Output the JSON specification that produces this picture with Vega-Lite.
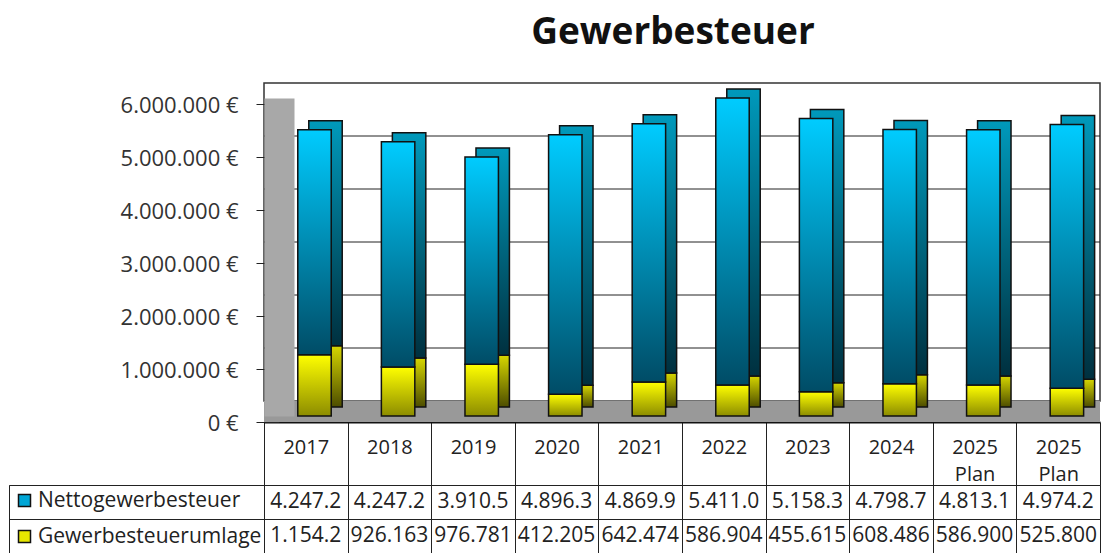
{
  "$schema": "https://vega.github.io/schema/vega-lite/v6.json",
  "background": "white",
  "padding": {"left": 8, "top": 14, "right": 0, "bottom": 0},
  "config": {
    "font": "Open Sans",
    "view": {"stroke": null},
    "axis": {"labelFont": "Open Sans"},
    "legend": {"labelFont": "Open Sans"}
  },
  "resolve": {"legend": {"color": "independent"}, "scale": {"color": "independent"}},
  "datasets": {
    "steuer": [
      {"jahr": "2017", "reihe": "Nettogewerbesteuer", "wert": 4247200, "anzeige": "4.247.2"},
      {"jahr": "2017", "reihe": "Gewerbesteuerumlage", "wert": 1154200, "anzeige": "1.154.2"},
      {"jahr": "2018", "reihe": "Nettogewerbesteuer", "wert": 4247200, "anzeige": "4.247.2"},
      {"jahr": "2018", "reihe": "Gewerbesteuerumlage", "wert": 926163, "anzeige": "926.163"},
      {"jahr": "2019", "reihe": "Nettogewerbesteuer", "wert": 3910500, "anzeige": "3.910.5"},
      {"jahr": "2019", "reihe": "Gewerbesteuerumlage", "wert": 976781, "anzeige": "976.781"},
      {"jahr": "2020", "reihe": "Nettogewerbesteuer", "wert": 4896300, "anzeige": "4.896.3"},
      {"jahr": "2020", "reihe": "Gewerbesteuerumlage", "wert": 412205, "anzeige": "412.205"},
      {"jahr": "2021", "reihe": "Nettogewerbesteuer", "wert": 4869900, "anzeige": "4.869.9"},
      {"jahr": "2021", "reihe": "Gewerbesteuerumlage", "wert": 642474, "anzeige": "642.474"},
      {"jahr": "2022", "reihe": "Nettogewerbesteuer", "wert": 5411000, "anzeige": "5.411.0"},
      {"jahr": "2022", "reihe": "Gewerbesteuerumlage", "wert": 586904, "anzeige": "586.904"},
      {"jahr": "2023", "reihe": "Nettogewerbesteuer", "wert": 5158300, "anzeige": "5.158.3"},
      {"jahr": "2023", "reihe": "Gewerbesteuerumlage", "wert": 455615, "anzeige": "455.615"},
      {"jahr": "2024", "reihe": "Nettogewerbesteuer", "wert": 4798700, "anzeige": "4.798.7"},
      {"jahr": "2024", "reihe": "Gewerbesteuerumlage", "wert": 608486, "anzeige": "608.486"},
      {"jahr": "2025 Plan", "reihe": "Nettogewerbesteuer", "wert": 4813100, "anzeige": "4.813.1"},
      {"jahr": "2025 Plan", "reihe": "Gewerbesteuerumlage", "wert": 586900, "anzeige": "586.900"},
      {"jahr": "2025 Plan ", "reihe": "Nettogewerbesteuer", "wert": 4974200, "anzeige": "4.974.2"},
      {"jahr": "2025 Plan ", "reihe": "Gewerbesteuerumlage", "wert": 525800, "anzeige": "525.800"}
    ],
    "raster": [{"v": 1000000}, {"v": 2000000}, {"v": 3000000}, {"v": 4000000}, {"v": 5000000}]
  },
  "columns": 2,
  "align": "each",
  "bounds": "flush",
  "spacing": {"row": 69, "column": 0},
  "concat": [
    {
      "width": 255,
      "height": 318,
      "data": {"values": [{}]},
      "mark": {"type": "point", "opacity": 0},
      "encoding": {}
    },
    {
      "width": 836,
      "height": 318,
      "title": {"text": "Gewerbesteuer", "fontSize": 37, "fontWeight": "bold", "font": "Open Sans", "color": "#111111", "anchor": "middle", "frame": "group", "dx": -9, "offset": 30},
      "layer": [
        {
          "data": {"values": [{}]},
          "mark": {"type": "rect", "fill": "white", "stroke": "#333333", "strokeWidth": 1.5, "x2Offset": 20, "yOffset": -15, "y2Offset": -15},
          "encoding": {
            "y": {
              "datum": 0, "type": "quantitative",
              "scale": {"domain": [0, 6000000], "nice": false, "zero": true},
              "axis": {
                "values": [0, 1000000, 2000000, 3000000, 4000000, 5000000, 6000000],
                "title": null, "grid": false, "zindex": 1,
                "domain": true, "domainColor": "#a8a8a8", "domainWidth": 30, "offset": -15,
                "ticks": true, "tickSize": 23, "tickColor": "#222222", "tickWidth": 1, "tickOffset": 6,
                "labelOffset": 1, "labelPadding": 18, "labelFontSize": 22, "labelColor": "#333333",
                "labelExpr": "replace(format(datum.value, ',d'), /,/g, '.') + ' €'"
              }
            },
            "y2": {"datum": 6000000}
          }
        },
        {
          "data": {"name": "raster"},
          "mark": {"type": "rule", "color": "#222222", "strokeWidth": 1, "x2Offset": 20, "yOffset": -15},
          "encoding": {"y": {"field": "v", "type": "quantitative"}}
        },
        {
          "data": {"values": [{}]},
          "mark": {"type": "rect", "fill": "#999999", "x2Offset": 10, "yOffset": 6, "y2Offset": 6},
          "encoding": {"y": {"datum": 0, "type": "quantitative"}, "y2": {"datum": 400000}}
        },
        {
          "data": {"name": "steuer"},
          "transform": [
            {"stack": "wert", "groupby": ["jahr"], "sort": [{"field": "reihe", "order": "ascending"}], "as": ["y0", "y1"]},
            {"filter": "datum.reihe === 'Gewerbesteuerumlage'"}
          ],
          "mark": {"type": "bar", "width": {"band": 0.4}, "xOffset": 19.7, "yOffset": -9, "y2Offset": -9, "stroke": "#111111", "strokeWidth": 1.5,
            "fill": {"gradient": "linear", "x1": 0, "y1": 0, "x2": 0, "y2": 1, "stops": [{"offset": 0, "color": "#d6d600"}, {"offset": 1, "color": "#4d4d00"}]}},
          "encoding": {
            "x": {
              "field": "jahr", "type": "nominal",
              "scale": {"domain": ["2017", "2018", "2019", "2020", "2021", "2022", "2023", "2024", "2025 Plan", "2025 Plan "], "paddingInner": 0, "paddingOuter": 0},
              "axis": {
                "title": null, "orient": "bottom", "offset": 6, "grid": false,
                "domain": true, "domainColor": "#111111", "domainWidth": 2,
                "ticks": true, "tickBand": "extent", "tickSize": 63, "tickColor": "#222222", "tickWidth": 1,
                "labelPadding": -48, "labelFontSize": 20, "labelColor": "#222222", "labelAngle": 0, "labelBaseline": "top",
                "labelLineHeight": 27, "labelOverlap": false, "labelBound": false,
                "labelExpr": "split(trim(datum.label), ' ')"
              }
            },
            "y": {"field": "y1", "type": "quantitative"},
            "y2": {"field": "y0"}
          }
        },
        {
          "data": {"name": "steuer"},
          "transform": [
            {"stack": "wert", "groupby": ["jahr"], "sort": [{"field": "reihe", "order": "ascending"}], "as": ["y0", "y1"]},
            {"filter": "datum.reihe === 'Gewerbesteuerumlage'"}
          ],
          "mark": {"type": "bar", "width": {"band": 0.4}, "xOffset": 8.7, "stroke": "#111111", "strokeWidth": 1.5,
            "fill": {"gradient": "linear", "x1": 0, "y1": 0, "x2": 0, "y2": 1, "stops": [{"offset": 0, "color": "#ffff00"}, {"offset": 1, "color": "#8c8c00"}]}},
          "encoding": {
            "x": {"field": "jahr", "type": "nominal"},
            "y": {"field": "y1", "type": "quantitative"},
            "y2": {"field": "y0"}
          }
        },
        {
          "data": {"name": "steuer"},
          "transform": [
            {"stack": "wert", "groupby": ["jahr"], "sort": [{"field": "reihe", "order": "ascending"}], "as": ["y0", "y1"]},
            {"filter": "datum.reihe === 'Nettogewerbesteuer'"}
          ],
          "mark": {"type": "bar", "width": {"band": 0.4}, "xOffset": 19.7, "yOffset": -9, "y2Offset": -9, "stroke": "#111111", "strokeWidth": 1.5,
            "fill": {"gradient": "linear", "x1": 0, "y1": 0, "x2": 0, "y2": 1, "stops": [{"offset": 0, "color": "#0099bb"}, {"offset": 1, "color": "#00303f"}]}},
          "encoding": {
            "x": {"field": "jahr", "type": "nominal"},
            "y": {"field": "y1", "type": "quantitative"},
            "y2": {"field": "y0"}
          }
        },
        {
          "data": {"name": "steuer"},
          "transform": [
            {"stack": "wert", "groupby": ["jahr"], "sort": [{"field": "reihe", "order": "ascending"}], "as": ["y0", "y1"]},
            {"filter": "datum.reihe === 'Nettogewerbesteuer'"}
          ],
          "mark": {"type": "bar", "width": {"band": 0.4}, "xOffset": 8.7, "stroke": "#111111", "strokeWidth": 1.5,
            "fill": {"gradient": "linear", "x1": 0, "y1": 0, "x2": 0, "y2": 1, "stops": [{"offset": 0, "color": "#00ccff"}, {"offset": 1, "color": "#004c66"}]}},
          "encoding": {
            "x": {"field": "jahr", "type": "nominal"},
            "y": {"field": "y1", "type": "quantitative"},
            "y2": {"field": "y0"}
          }
        }
      ]
    },
    {
      "width": 255,
      "height": 68,
      "view": {"stroke": "#222222"},
      "data": {"name": "steuer"},
      "mark": {"type": "point", "shape": "square", "filled": true, "opacity": 0},
      "encoding": {
        "y": {
          "field": "reihe", "type": "nominal",
          "scale": {"domain": ["Nettogewerbesteuer", "Gewerbesteuerumlage"], "paddingInner": 0, "paddingOuter": 0},
          "axis": {"domain": false, "ticks": false, "labels": false, "title": null, "grid": true, "tickBand": "extent", "gridColor": "#222222", "gridOpacity": 1}
        },
        "color": {
          "field": "reihe", "type": "nominal",
          "scale": {"domain": ["Nettogewerbesteuer", "Gewerbesteuerumlage"], "range": ["#00a6d6", "#e6e600"]},
          "legend": {
            "orient": "top-left", "title": null, "offset": 3, "padding": 2,
            "symbolType": "square", "symbolSize": 144, "symbolStrokeColor": "#111111", "symbolStrokeWidth": 1.5, "symbolOpacity": 1,
            "labelFontSize": 21, "labelColor": "#222222", "labelOffset": 3, "labelLimit": 400, "rowPadding": 14
          }
        }
      }
    },
    {
      "width": 836,
      "height": 68,
      "view": {"stroke": "#222222"},
      "data": {"name": "steuer"},
      "mark": {"type": "text", "fontSize": 21, "color": "#222222", "font": "Open Sans"},
      "encoding": {
        "x": {
          "field": "jahr", "type": "nominal",
          "scale": {"domain": ["2017", "2018", "2019", "2020", "2021", "2022", "2023", "2024", "2025 Plan", "2025 Plan "], "paddingInner": 0, "paddingOuter": 0},
          "axis": {"domain": false, "ticks": false, "labels": false, "title": null, "grid": true, "tickBand": "extent", "gridColor": "#222222", "gridOpacity": 1}
        },
        "y": {
          "field": "reihe", "type": "nominal",
          "scale": {"domain": ["Nettogewerbesteuer", "Gewerbesteuerumlage"], "paddingInner": 0, "paddingOuter": 0},
          "axis": {"domain": false, "ticks": false, "labels": false, "title": null, "grid": true, "tickBand": "extent", "gridColor": "#222222", "gridOpacity": 1}
        },
        "text": {"field": "anzeige"}
      }
    }
  ]
}
